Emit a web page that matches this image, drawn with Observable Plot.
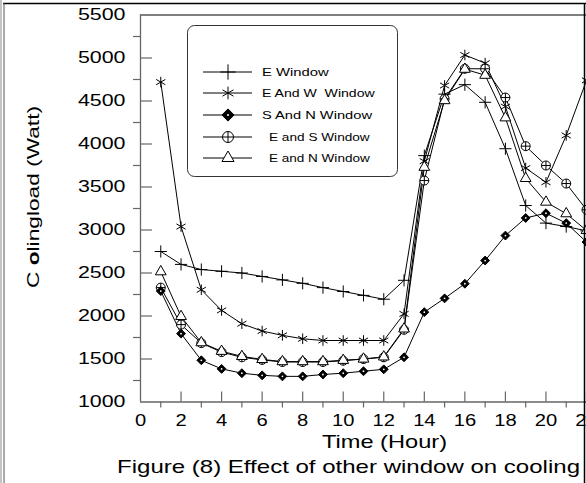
<!DOCTYPE html>
<html><head><meta charset="utf-8">
<script src="https://cdn.jsdelivr.net/npm/d3@7"></script>
<script src="https://cdn.jsdelivr.net/npm/@observablehq/plot@0.6"></script>
<style>
body{margin:0;background:#fff}
#chart{position:relative;width:586px;height:483px;overflow:hidden;background:#fff}
</style>
</head><body><div id="chart"></div>
<script>
const hours = [1,2,3,4,5,6,7,8,9,10,11,12,13,14,15,16,17,18,19,20,21,22];
const seriesNames = ["E Window","E And W  Window","S And N Window","E and S Window","E and N Window"];
const eWindow = [2750,2600,2540,2520,2500,2460,2420,2380,2330,2285,2240,2195,2415,3865,4580,4690,4485,3945,3285,3080,3040,2990];
const eAndW   = [4720,3040,2305,2065,1910,1825,1775,1735,1715,1715,1715,1715,2025,3800,4680,5035,4940,4435,3720,3555,4100,4740];
const sAndN   = [2290,1795,1485,1385,1335,1310,1298,1298,1320,1335,1358,1380,1520,2045,2205,2375,2645,2935,3140,3195,3080,2860];
const eAndS   = [2330,1900,1685,1580,1520,1490,1465,1465,1465,1480,1500,1520,1840,3575,4525,4875,4875,4540,3975,3750,3540,3235];
const eAndN   = [2515,1995,1690,1590,1530,1495,1470,1470,1470,1485,1500,1525,1850,3730,4505,4870,4800,4305,3600,3325,3190,2995];
const yTicks = [1000,1500,2000,2500,3000,3500,4000,4500,5000,5500];
const yMinor = [1250,1750,2250,2750,3250,3750,4250,4750,5250];
const xTicks = [0,2,4,6,8,10,12,14,16,18,20,22];
const xMinor = [1,3,5,7,9,11,13,15,17,19,21];
const yLabel = ["C ","o","lingload (Watt)"];
const xLabel = "Time (Hour)";
const caption = "Figure (8) Effect of other window on cooling";

const values = [eWindow,eAndW,sAndN,eAndS,eAndN];
const rows = [];
seriesNames.forEach((name,i)=>values[i].forEach((v,j)=>rows.push({series:name,hour:hours[j],load:v})));
const byName = n => rows.filter(d=>d.series===n);

const pxY = 500/43; // data units per pixel on y
const pxX = 22/446;

const axisGray = "#666";
const plot = Plot.plot({
  width:586, height:483,
  marginLeft:140, marginRight:0, marginTop:14.5, marginBottom:81.5,
  x:{domain:[0,22]}, y:{domain:[1000,5500]},
  style:{fontFamily:"'Liberation Sans', Arial, sans-serif", fontSize:"16px", background:"white", overflow:"visible"},
  marks:[
    Plot.ruleY([5500], {stroke:"black", strokeWidth:1.2}),
    Plot.ruleX([0], {stroke:axisGray, strokeWidth:1.3}),
    Plot.ruleY([1000], {stroke:axisGray, strokeWidth:1.3}),
    Plot.ruleY(yTicks.slice(1,-1), {x1:0, x2:12*pxX, stroke:axisGray, strokeWidth:1.2}),
    Plot.ruleY(yMinor, {x1:-7*pxX, x2:0, stroke:axisGray, strokeWidth:1.2}),
    Plot.ruleX(xTicks.slice(1), {y1:1000, y2:1000+10*pxY, stroke:axisGray, strokeWidth:1.2}),
    Plot.ruleX(xMinor, {y1:1000-6*pxY, y2:1000, stroke:axisGray, strokeWidth:1.2}),
    Plot.line(rows, {x:"hour", y:"load", z:"series", stroke:"black", strokeWidth:1}),
    Plot.dot(byName(seriesNames[0]), {x:"hour", y:"load", symbol:"plus", r:4, stroke:"black", strokeWidth:1}),
    Plot.dot(byName(seriesNames[1]), {x:"hour", y:"load", symbol:"asterisk", r:5, stroke:"black", strokeWidth:1}),
    Plot.dot(byName(seriesNames[3]), {x:"hour", y:"load", symbol:"circle", r:4.5, fill:"white", stroke:"black", strokeWidth:1}),
    Plot.dot(byName(seriesNames[3]), {x:"hour", y:"load", symbol:"plus", r:3, stroke:"black", strokeWidth:1}),
    Plot.dot(byName(seriesNames[4]), {x:"hour", y:"load", symbol:"triangle", r:4, fill:"white", stroke:"black", strokeWidth:1}),
    Plot.dot(byName(seriesNames[2]), {x:"hour", y:"load", symbol:"diamond2", r:4, fill:"black", stroke:"black", strokeWidth:1}),
    Plot.dot(byName(seriesNames[2]), {x:"hour", y:"load", r:0.9, fill:"white", stroke:"none"}),
    Plot.axisY({ticks:yTicks, tickSize:0, tickPadding:15, label:null, fontSize:16, tickFormat:d=>String(d)}),
    Plot.axisX({ticks:xTicks, tickSize:0, tickPadding:13, label:null, fontSize:16, tickFormat:d=>String(d)})
  ]
});
document.getElementById("chart").appendChild(plot);

const svg = d3.select(plot);
svg.selectAll('g[aria-label="y-axis tick label"] text').each(function(){
  const t = this.textContent; d3.select(this).attr("textLength", t.length*11.9).attr("lengthAdjust","spacingAndGlyphs");
});
svg.selectAll('g[aria-label="x-axis tick label"] text').each(function(){
  const t = this.textContent; d3.select(this).attr("textLength", t.length*11.2).attr("lengthAdjust","spacingAndGlyphs");
});

const g = svg.append("g").attr("font-family","'Liberation Sans', Arial, sans-serif").attr("font-weight","normal");
// page frame
g.append("line").attr("x1",3).attr("x2",586).attr("y1",3.5).attr("y2",3.5).attr("stroke","black").attr("stroke-width",1.5);
g.append("line").attr("x1",1).attr("x2",1).attr("y1",0).attr("y2",483).attr("stroke","#888").attr("stroke-width",1);
g.append("line").attr("x1",4).attr("x2",4).attr("y1",3).attr("y2",483).attr("stroke","#555").attr("stroke-width",1);
g.append("line").attr("x1",584.5).attr("x2",584.5).attr("y1",3).attr("y2",483).attr("stroke","black").attr("stroke-width",1.5);

// legend
g.append("rect").attr("x",187.5).attr("y",25.5).attr("width",210).attr("height",151).attr("rx",7)
  .attr("fill","white").attr("stroke","#333").attr("stroke-width",1);
const legY = [72,93,115,137,158];
const legTextX = [262,262,262,269,269];
const legTextW = [66.7,112.7,110,100.7,100.7];
const sym = (type,r)=>d3.symbol().type(type).size(Math.PI*r*r)();
seriesNames.forEach((name,i)=>{
  const y = legY[i];
  g.append("line").attr("x1",203).attr("x2",252).attr("y1",y).attr("y2",y).attr("stroke","black");
  const m = g.append("g").attr("transform",`translate(228,${y})`);
  if(i===0) m.append("path").attr("d",sym(d3.symbolPlus,5)).attr("stroke","black").attr("fill","none");
  if(i===1) m.append("path").attr("d",sym(d3.symbolAsterisk,6)).attr("stroke","black").attr("fill","none");
  if(i===2){ m.append("path").attr("d",sym(d3.symbolDiamond2,5.5)).attr("stroke","black").attr("fill","black");
             m.append("circle").attr("r",1).attr("fill","white"); }
  if(i===3){ m.append("circle").attr("r",5.5).attr("stroke","black").attr("fill","white");
             m.append("path").attr("d",sym(d3.symbolPlus,3.6)).attr("stroke","black"); }
  if(i===4) m.append("path").attr("d",sym(d3.symbolTriangle,4.5)).attr("stroke","black").attr("fill","white");
  g.append("text").attr("x",legTextX[i]).attr("y",y).attr("dy","0.35em").attr("font-size",10.5)
    .attr("text-anchor","start")
    .attr("textLength",legTextW[i]).attr("lengthAdjust","spacingAndGlyphs").attr("fill","black").text(name);
});

// y label
const yl = g.append("text").attr("transform","translate(33,197) rotate(-90)").attr("text-anchor","middle")
  .attr("dy","0.35em").attr("font-size",16.5).attr("textLength",182).attr("lengthAdjust","spacingAndGlyphs").attr("fill","black");
yl.append("tspan").text(yLabel[0]);
yl.append("tspan").attr("font-weight","bold").text(yLabel[1]);
yl.append("tspan").text(yLabel[2]);

// x label and caption
g.append("text").attr("x",384.5).attr("y",448).attr("text-anchor","middle").attr("font-size",19)
  .attr("textLength",125).attr("lengthAdjust","spacingAndGlyphs").attr("fill","black").text(xLabel);
g.append("text").attr("x",348.5).attr("y",473).attr("text-anchor","middle").attr("font-size",19)
  .attr("textLength",463).attr("lengthAdjust","spacingAndGlyphs").attr("fill","black").text(caption);
</script></body></html>
